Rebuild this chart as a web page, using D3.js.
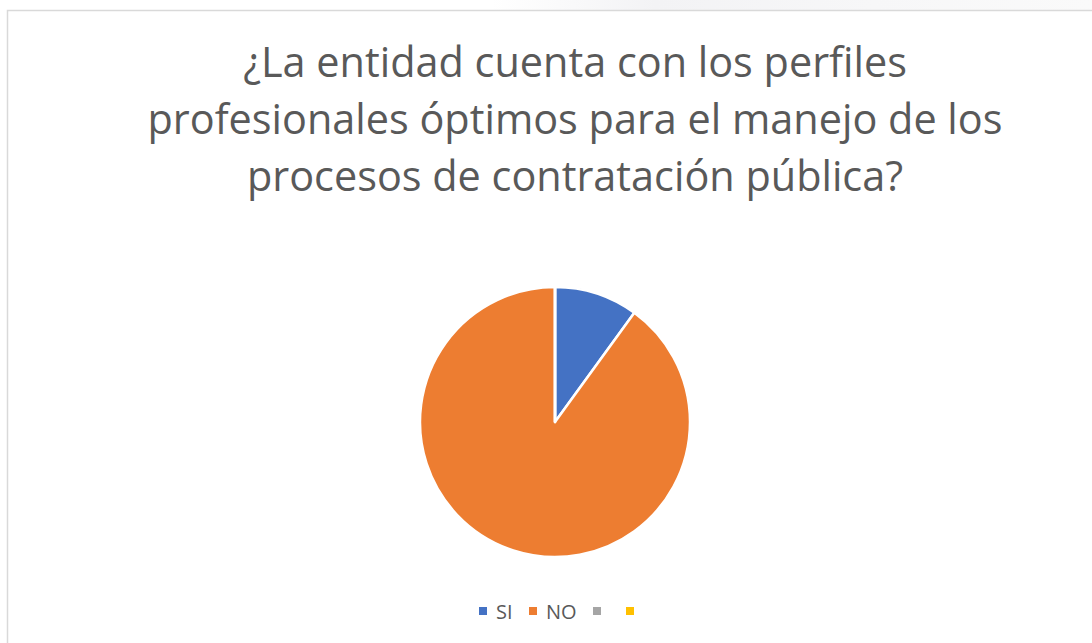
<!DOCTYPE html>
<html><head><meta charset="utf-8">
<script src="https://cdn.jsdelivr.net/npm/d3@7"></script>
<style>body{margin:0;background:#fff;overflow:hidden}</style>
</head><body>
<svg id="c" width="1092" height="643"></svg>
<script>
const titleLines = ["¿La entidad cuenta con los perfiles", "profesionales óptimos para el manejo de los", "procesos de contratación pública?"];
const categories = ["SI", "NO", "", ""];
const values = [10, 90, 0, 0];
const colors = ["#4472C4", "#ED7D31", "#A5A5A5", "#FFC000"];

const svg = d3.select("#c");
const defs = svg.append("defs");
const g0 = defs.append("linearGradient").attr("id","tg").attr("x1","0").attr("x2","1");
g0.append("stop").attr("offset","0.45").attr("stop-color","#fff");
g0.append("stop").attr("offset","0.6").attr("stop-color","#f3f3f5");
g0.append("stop").attr("offset","0.8").attr("stop-color","#f7f7f8");
g0.append("stop").attr("offset","1").attr("stop-color","#fafafa");
svg.append("rect").attr("x",0).attr("y",0).attr("width",1092).attr("height",10).attr("fill","url(#tg)");
svg.append("rect").attr("x",7.5).attr("y",10.5).attr("width",1200).attr("height",700)
  .attr("fill","#fff").attr("stroke","#d9d9d9").attr("stroke-width",1.5);

const font = "'Open Sans', sans-serif";
svg.append("g").selectAll("text").data(titleLines).join("text")
  .attr("x", 575).attr("y", (d,i)=>77+i*57)
  .attr("text-anchor","middle").attr("font-family",font).attr("font-size",41.4)
  .style("font-variant-ligatures","none")
  .attr("fill","#595959").text(d=>d);

const cx = 555, cy = 422, r = 135;
const pie = d3.pie().sort(null).value(d=>d)(values);
const arc = d3.arc().innerRadius(0).outerRadius(r);
svg.append("g").attr("transform",`translate(${cx},${cy})`).selectAll("path").data(pie).join("path")
  .attr("d",arc).attr("fill",(d,i)=>colors[i]).attr("stroke","#fff").attr("stroke-width",2.5)
  .attr("stroke-linejoin","round");

const legX = [479, 529, 593, 626];
const lg = svg.append("g").selectAll("g").data(categories).join("g")
  .attr("transform",(d,i)=>`translate(${legX[i]},607)`);
lg.append("rect").attr("width",8).attr("height",8).attr("fill",(d,i)=>colors[i]);
lg.append("text").attr("x",17).attr("y",12).attr("font-family",font).attr("font-size",20)
  .attr("fill","#595959").text(d=>d);
</script>
</body></html>
